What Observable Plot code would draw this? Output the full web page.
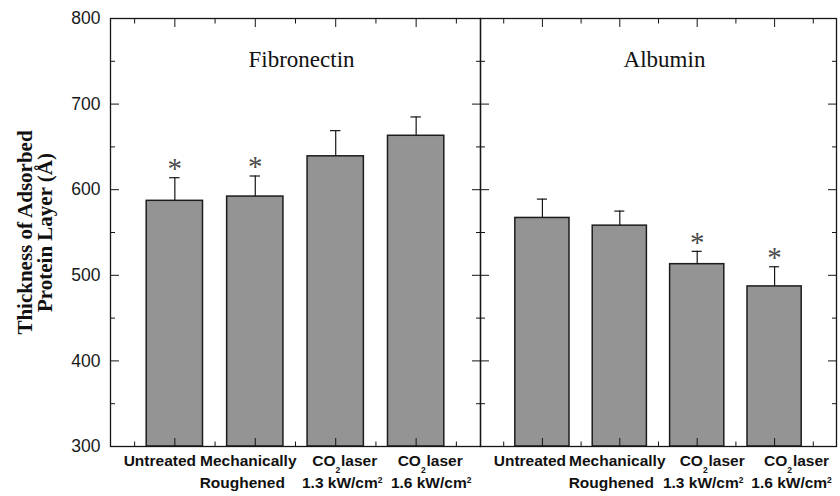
<!DOCTYPE html>
<html><head><meta charset="utf-8">
<script src="https://cdn.jsdelivr.net/npm/d3@7"></script>
<script src="https://cdn.jsdelivr.net/npm/@observablehq/plot@0.6"></script>
<style>
html,body{margin:0;padding:0;background:#fff;}
#chart{position:relative;width:840px;height:496px;background:#fff;}
#chart svg{position:absolute;left:0;top:0;overflow:visible;background:transparent;}
</style></head><body><div id="chart"></div>
<script>
// ---- data ----
const treatments = ["Untreated", "Mechanically Roughened", "CO₂ laser 1.3 kW/cm²", "CO₂ laser 1.6 kW/cm²"];
const labelLine1 = ["Untreated", "Mechanically", "CO₂ laser", "CO₂ laser"];
const labelLine2 = ["", "Roughened", "1.3 kW/cm²", "1.6 kW/cm²"];
const proteins = ["Fibronectin", "Albumin"];
const fibronectinMean = [587, 592, 639, 663];
const fibronectinErr = [27, 24, 30, 22];
const fibronectinSig = [true, true, false, false];
const albuminMean = [567, 558, 513, 487];
const albuminErr = [22, 17, 15, 23];
const albuminSig = [false, false, true, true];
const yMajorTicks = [300, 400, 500, 600, 700, 800];
const yMinorTicks = [350, 450, 550, 650, 750];
const xMajorTicks = [1, 2, 3, 4];
const xMinorTicks = [0.5, 1.5, 2.5, 3.5, 4.5];
const yTitle = "Thickness of Adsorbed\nProtein Layer (Å)";

// ---- layout / style ----
const W = 840, H = 496;
const ink = "#151515";
const sans = "'Liberation Sans', Arial, Helvetica, sans-serif";
const serif = "'Liberation Serif', 'Times New Roman', serif";
// pixel nudges of the category labels (they are not centred on the ticks in the original)
const nudgesP1 = {l1: [-15, -7, 9, 14], l2: [0, -13, 6.5, 15]};
const nudgesP2 = {l1: [-12.5, -2.5, 15, 22], l2: [0, -8.5, 6, 17]};

function panel(title, means, errs, sigs, marginLeft, marginRight, showY, nudges) {
  const data = treatments.map((t, i) => ({t, pos: i + 1, mean: means[i], err: errs[i], sig: sigs[i]}));
  const labelStyle = {frameAnchor: "bottom", lineAnchor: "top", fontFamily: sans, fontWeight: "bold", fontSize: 15.5, fill: "#111"};
  const marks = [
    Plot.rectY(data, {x1: d => d.pos - 0.35, x2: d => d.pos + 0.35, y1: () => 300, y2: "mean",
      fill: "#949494", stroke: "#1c1c1c", strokeWidth: 1.5}),
    Plot.ruleX(data, {x: "pos", y1: "mean", y2: d => d.mean + d.err, stroke: ink, strokeWidth: 1.2}),
    Plot.ruleY(data, {y: d => d.mean + d.err, x1: d => d.pos - 0.065, x2: d => d.pos + 0.065, stroke: ink, strokeWidth: 1.2}),
    Plot.text(data.filter(d => d.sig), {x: "pos", y: d => d.mean + d.err, text: () => "*", dy: -9,
      fontFamily: serif, fontSize: 29, fill: "#4a4a4a"}),
    Plot.frame({stroke: ink, strokeWidth: 1.3}),
    Plot.axisY(yMajorTicks, {anchor: "left", tickSize: -9, fill: "none", stroke: ink, label: null}),
    Plot.axisY(yMinorTicks, {anchor: "left", tickSize: -5, fill: "none", stroke: ink, label: null}),
    Plot.axisY(yMajorTicks, {anchor: "right", tickSize: -9, fill: "none", stroke: ink, label: null}),
    Plot.axisY(yMinorTicks, {anchor: "right", tickSize: -5, fill: "none", stroke: ink, label: null}),
    Plot.axisX(xMajorTicks, {anchor: "top", tickSize: -8, fill: "none", stroke: ink, label: null}),
    Plot.axisX(xMinorTicks, {anchor: "top", tickSize: -4.5, fill: "none", stroke: ink, label: null}),
    Plot.axisX(xMajorTicks, {anchor: "bottom", tickSize: -8, fill: "none", stroke: ink, label: null}),
    Plot.axisX(xMinorTicks, {anchor: "bottom", tickSize: -4.5, fill: "none", stroke: ink, label: null}),
    Plot.text([title], {frameAnchor: "top", lineAnchor: "top", dy: 32, dx: 6, fontFamily: serif, fontSize: 23, fill: "#111"}),
    ...labelLine1.map((l, i) => Plot.text([l], {x: () => i + 1, dy: 8, dx: nudges.l1[i], ...labelStyle})),
    ...labelLine2.map((l, i) => Plot.text([l], {x: () => i + 1, dy: 30.5, dx: nudges.l2[i], ...labelStyle}))
  ];
  if (showY) {
    marks.push(Plot.axisY(yMajorTicks, {anchor: "left", tickSize: 0, tickPadding: 10, stroke: "none", fill: "#1a1a1a",
      fontSize: 17.5, fontFamily: sans, label: null}));
    marks.push(Plot.text([yTitle], {frameAnchor: "left", textAnchor: "middle", lineAnchor: "middle", rotate: -90, dx: -75,
      lineHeight: 0.95, fontFamily: serif, fontWeight: "bold", fontSize: 21, fill: "#111"}));
  }
  return Plot.plot({
    width: W, height: H,
    marginTop: 18, marginBottom: 50, marginLeft, marginRight,
    x: {domain: [0.2, 4.8]},
    y: {domain: [300, 800]},
    style: {fontFamily: sans, background: "transparent", overflow: "visible"},
    marks
  });
}

// render ₂ as a dropped subscript and ² as a superscript, as in the original
function richify(svg) {
  d3.select(svg).selectAll("text").each(function() {
    const s = this.textContent;
    if (!/[₂²]/.test(s)) return;
    const el = d3.select(this);
    el.selectAll("*").remove();
    el.text(null);
    let cur = 0, afterSub = false;
    for (const part of s.split(/([₂²])/)) {
      if (!part) continue;
      if (part === "₂") {
        el.append("tspan").attr("font-size", 8.5).attr("dy", 7.5 - cur).text("2"); cur = 7.5; afterSub = true;
      } else if (part === "²") {
        el.append("tspan").attr("font-size", 8.5).attr("dy", -5.5 - cur).text("2"); cur = -5.5;
      } else {
        let rest = part;
        if (afterSub && rest.startsWith(" ")) {
          el.append("tspan").attr("font-size", 3).attr("dy", -cur).text(" "); cur = 0;
          rest = rest.slice(1);
        }
        el.append("tspan").attr("dy", -cur).text(rest); cur = 0; afterSub = false;
      }
    }
  });
}

const chart = document.getElementById("chart");
const p1 = panel(proteins[0], fibronectinMean, fibronectinErr, fibronectinSig, 110, W - 480, true, nudgesP1);
const p2 = panel(proteins[1], albuminMean, albuminErr, albuminSig, 480, W - 836, false, nudgesP2);
richify(p1); richify(p2);
chart.append(p1, p2);
</script>
</body></html>
